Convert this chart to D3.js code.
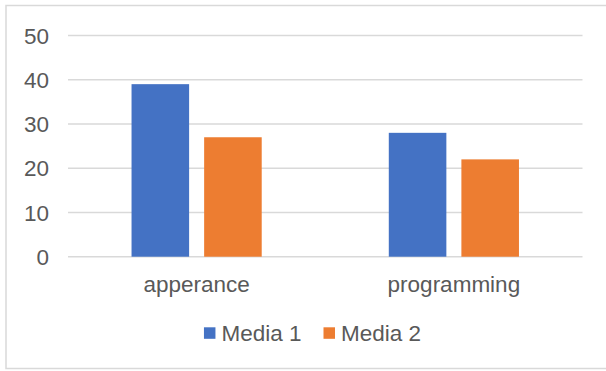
<!DOCTYPE html>
<html>
<head>
<meta charset="utf-8">
<script src="https://cdn.jsdelivr.net/npm/d3@7"></script>
<style>
  html, body { margin: 0; padding: 0; background: #fff; }
  svg { display: block; }
  text { font-family: "Liberation Sans", Arial, sans-serif; fill: #595959; }
</style>
</head>
<body>
<svg id="chart" width="606" height="371"></svg>
<script>
const categories = ["apperance", "programming"];
const seriesNames = ["Media 1", "Media 2"];
const media1 = [39, 28];
const media2 = [27, 22];
const yTicks = [0, 10, 20, 30, 40, 50];
const colors = ["#4472C4", "#ED7D31"];

const seriesValues = [media1, media2];
const svg = d3.select("#chart");
const W = 606, H = 371;
const fontSize = 22.5;

// outer border
svg.append("rect")
  .attr("x", 6).attr("y", 5.5)
  .attr("width", 620).attr("height", 363)
  .attr("fill", "#fff")
  .attr("stroke", "#d9d9d9").attr("stroke-width", 1.5);

const plotL = 68, plotR = 582.5, plotT = 35.5, plotB = 256.7;

const y = d3.scaleLinear().domain([0, 50]).range([plotB, plotT]);
const x0 = d3.scaleBand().domain(categories).range([plotL, plotR])
  .paddingInner(0.494).paddingOuter(0.247);
const x1 = d3.scaleBand().domain(seriesNames).range([0, x0.bandwidth()])
  .paddingInner(0.207).paddingOuter(0);

// gridlines
svg.append("g").selectAll("line").data(yTicks).join("line")
  .attr("x1", plotL).attr("x2", plotR)
  .attr("y1", d => y(d)).attr("y2", d => y(d))
  .attr("stroke", "#d9d9d9").attr("stroke-width", 1.5);

// y tick labels
svg.append("g").selectAll("text").data(yTicks).join("text")
  .attr("x", 49).attr("y", d => y(d))
  .attr("dy", "0.36em")
  .attr("text-anchor", "end")
  .style("font-size", fontSize + "px")
  .text(d => d);

// bars
const groups = svg.append("g").selectAll("g").data(categories).join("g")
  .attr("transform", c => `translate(${x0(c)},0)`);
groups.selectAll("rect")
  .data((c, i) => seriesNames.map((s, j) => ({ s, j, v: seriesValues[j][i] })))
  .join("rect")
  .attr("x", d => x1(d.s))
  .attr("width", x1.bandwidth())
  .attr("y", d => y(d.v))
  .attr("height", d => y(0) - y(d.v))
  .attr("fill", d => colors[d.j]);

// category labels
svg.append("g").selectAll("text").data(categories).join("text")
  .attr("x", c => x0(c) + x0.bandwidth() / 2)
  .attr("y", 291.5)
  .attr("text-anchor", "middle")
  .style("font-size", fontSize + "px")
  .text(c => c);

// legend
const legend = svg.append("g");
const sq = 11.5, gapText = 6, gapItem = 22;
let cx = 0;
const items = seriesNames.map((s, j) => {
  const g = legend.append("g");
  g.append("rect").attr("x", 0).attr("y", 327.3).attr("width", sq).attr("height", sq)
    .attr("fill", colors[j]);
  const t = g.append("text").attr("x", sq + gapText).attr("y", 341)
    .style("font-size", fontSize + "px").text(s);
  const w = sq + gapText + t.node().getComputedTextLength();
  g.attr("transform", `translate(${cx},0)`);
  cx += w + gapItem;
  return w;
});
const totalW = cx - gapItem;
legend.attr("transform", `translate(${312.5 - totalW / 2},0)`);
</script>
</body>
</html>
